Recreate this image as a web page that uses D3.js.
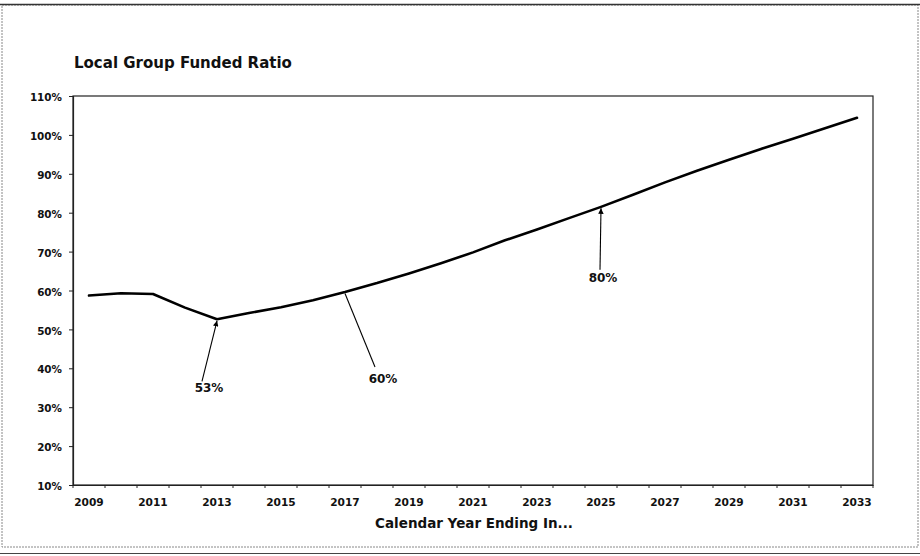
<!DOCTYPE html>
<html>
<head>
<meta charset="utf-8">
<script src="https://cdn.jsdelivr.net/npm/d3@7"></script>
<style>
  html, body { margin: 0; padding: 0; background: #fff; }
  svg { display: block; }
  text { font-family: "DejaVu Sans", Verdana, sans-serif; font-weight: bold; fill: #111; }
</style>
</head>
<body>
<svg id="chart" width="920" height="556"></svg>
<script>
// ---- data ----
const years = [2009, 2010, 2011, 2012, 2013, 2014, 2015, 2016, 2017, 2018, 2019, 2020, 2021,
               2022, 2023, 2024, 2025, 2026, 2027, 2028, 2029, 2030, 2031, 2032, 2033];
const fundedRatio = [0.587, 0.593, 0.591, 0.556, 0.526, 0.542, 0.557, 0.575, 0.596, 0.619, 0.644,
                     0.670, 0.698, 0.729, 0.757, 0.786, 0.815, 0.846, 0.878, 0.908, 0.936,
                     0.964, 0.990, 1.017, 1.044];
const yTicks = [0.1, 0.2, 0.3, 0.4, 0.5, 0.6, 0.7, 0.8, 0.9, 1.0, 1.1];
const xTickLabels = [2009, 2011, 2013, 2015, 2017, 2019, 2021, 2023, 2025, 2027, 2029, 2031, 2033];
const annoYears = [2013, 2017, 2025];
const annoLabels = ["53%", "60%", "80%"];
const titleText = "Local Group Funded Ratio";
const xTitleText = "Calendar Year Ending In...";

// ---- layout ----
const svg = d3.select("#chart");
const L = 73, R = 873, T = 96, B = 485;

const x = d3.scaleBand().domain(years).range([L, R]).padding(0);
const y = d3.scaleLinear().domain([0.1, 1.1]).range([B, T]);
const cx = d => x(d) + x.bandwidth() / 2;

// outer frame
svg.append("rect").attr("x", 2).attr("y", 5).attr("width", 916).attr("height", 542)
  .attr("fill", "none").attr("stroke", "#888").attr("stroke-width", 1).attr("stroke-dasharray", "2,1");
svg.append("line").attr("x1", 0).attr("x2", 920).attr("y1", 4.5).attr("y2", 4.5)
  .attr("stroke", "#333").attr("stroke-width", 1.5);
svg.append("line").attr("x1", 0).attr("x2", 920).attr("y1", 553.5).attr("y2", 553.5)
  .attr("stroke", "#444").attr("stroke-width", 1.2);

// title
svg.append("text").attr("x", 74).attr("y", 68).style("font-size", "15px").text(titleText);

// plot area border
svg.append("rect").attr("x", L).attr("y", T).attr("width", R - L).attr("height", B - T)
  .attr("fill", "none").attr("stroke", "#222").attr("stroke-width", 1.2);

// y axis
const yAxis = d3.axisLeft(y).tickValues(yTicks).tickFormat(d3.format(".0%")).tickSize(4).tickPadding(7);
const gy = svg.append("g").attr("transform", `translate(${L},0)`).call(yAxis);
gy.select(".domain").attr("stroke", "#222").attr("stroke-width", 1.2);
gy.selectAll(".tick line").attr("stroke", "#222");
gy.selectAll(".tick text").style("font-size", "10.4px").style("font-family", "DejaVu Sans").style("font-weight", "bold").attr("fill", "#111").attr("dy", "0.45em");

// x axis: labels at category centres
const xAxis = d3.axisBottom(x).tickValues(xTickLabels).tickSize(0).tickPadding(13);
const gx = svg.append("g").attr("transform", `translate(0,${B})`).call(xAxis);
gx.select(".domain").attr("stroke", "#222").attr("stroke-width", 1.2);
gx.selectAll(".tick text").style("font-size", "10.6px").style("font-family", "DejaVu Sans").style("font-weight", "bold").attr("fill", "#111");

// x axis tick marks at category boundaries
const boundaries = years.map(d => x(d)).concat([x.range()[1]]);
svg.append("g").selectAll("line").data(boundaries).join("line")
  .attr("x1", d => d).attr("x2", d => d).attr("y1", B).attr("y2", B + 3)
  .attr("stroke", "#222").attr("stroke-width", 1);

// x title
svg.append("text").attr("x", (L + R) / 2 + 1).attr("y", 528).attr("text-anchor", "middle")
  .style("font-size", "13.5px").text(xTitleText);

// line
const line = d3.line().x((d, i) => cx(years[i])).y(d => y(d));
svg.append("path").datum(fundedRatio).attr("d", line)
  .attr("fill", "none").attr("stroke", "#000").attr("stroke-width", 2.6)
  .attr("stroke-linejoin", "round").attr("stroke-linecap", "round");

// annotations
const annoLayout = [
  { lx: -15, ly: 62, tx: -8, ty: 73 },
  { lx: 30, ly: 75, tx: 38, ty: 91 },
  { lx: -1, ly: 63, tx: 2, ty: 75 }
];
svg.append("defs").append("marker").attr("id", "arr").attr("viewBox", "0 0 10 10")
  .attr("refX", 10).attr("refY", 5).attr("markerWidth", 5).attr("markerHeight", 5)
  .attr("orient", "auto-start-reverse")
  .append("path").attr("d", "M0,0 L10,5 L0,10 z").attr("fill", "#000");

annoYears.forEach((yr, k) => {
  const i = years.indexOf(yr);
  const px = cx(yr), py = y(fundedRatio[i]);
  const o = annoLayout[k];
  svg.append("line").attr("x1", px + o.lx).attr("y1", py + o.ly).attr("x2", px).attr("y2", py + 1.5)
    .attr("stroke", "#000").attr("stroke-width", 1.1)
    .attr("marker-end", k === 1 ? null : "url(#arr)");
  svg.append("text").attr("x", px + o.tx).attr("y", py + o.ty).attr("text-anchor", "middle")
    .style("font-size", "12px").text(annoLabels[k]);
});
</script>
</body>
</html>
